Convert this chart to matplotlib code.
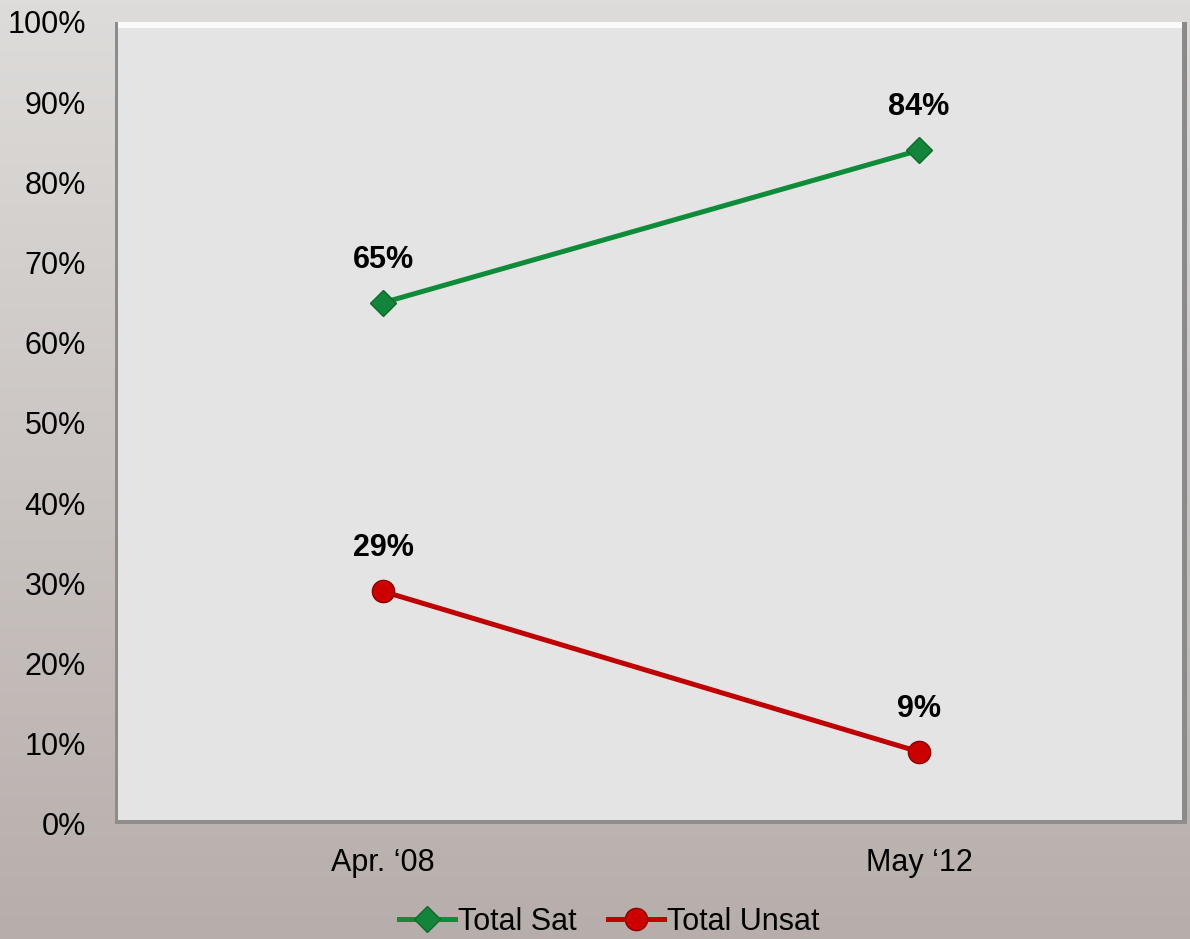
import numpy as np
import matplotlib
matplotlib.use("Agg")
import matplotlib.pyplot as plt
from matplotlib.patches import Rectangle

# Chart data
periods = ["Apr. \u201808", "May \u201812"]
total_sat = [65, 84]
total_unsat = [29, 9]
y_ticks = list(range(0, 101, 10))

plt.rcParams['font.family'] = ['Liberation Sans', 'DejaVu Sans']

fig = plt.figure(figsize=(11.9, 9.39), dpi=100)

# Background gradient (grey photo-like backdrop)
bg = fig.add_axes([0, 0, 1, 1], zorder=0)
grad = np.linspace(0, 1, 256).reshape(-1, 1)
top = np.array([222, 220, 218]) / 255
bot = np.array([183, 174, 171]) / 255
img = top + (bot - top) * grad[..., None]
bg.imshow(img, aspect='auto', extent=[0, 1, 0, 1])
bg.axis('off')

left, bottom, width, height = 0.0966, 0.1225, 0.9009, 0.8541
ax = fig.add_axes([left, bottom, width, height], zorder=2)
ax.set_facecolor('#e4e4e4')

x = np.arange(len(periods))
ax.plot(x, total_sat, color='#0e8c3a', linewidth=3.6, marker='D',
        markersize=13, markerfacecolor='#13853a', markeredgecolor='#0b6a2a',
        label='Total Sat', zorder=3)
ax.plot(x, total_unsat, color='#c00000', linewidth=3.6, marker='o',
        markersize=16, markerfacecolor='#cc0000', markeredgecolor='#8a0000',
        label='Total Unsat', zorder=3)

for xi, v in zip(x, total_sat):
    ax.annotate(f"{v}%", (xi, v), xytext=(0, 31), textcoords='offset points',
                ha='center', va='center', fontsize=22, fontweight='bold')
for xi, v in zip(x, total_unsat):
    ax.annotate(f"{v}%", (xi, v), xytext=(0, 31), textcoords='offset points',
                ha='center', va='center', fontsize=22, fontweight='bold')

ax.set_xlim(-0.5, 1.5)
ax.set_ylim(0, 100)
ax.set_yticks(y_ticks)
ax.set_yticklabels([f"{t}%" for t in y_ticks], fontsize=22)
ax.set_xticks(x)
ax.set_xticklabels(periods, fontsize=22)
ax.tick_params(axis='y', length=0, pad=21)
ax.tick_params(axis='x', length=0, pad=17)
for s in ax.spines.values():
    s.set_visible(False)

# Bevelled frame
ax.add_patch(Rectangle((0, 0.993), 1, 0.007, transform=ax.transAxes,
                       facecolor='#fafafa', edgecolor='none', clip_on=False, zorder=4))
ax.add_patch(Rectangle((0, 0), 0.003, 1, transform=ax.transAxes,
                       facecolor='#8c8c8c', edgecolor='none', clip_on=False, zorder=4))
ax.add_patch(Rectangle((0.995, 0), 0.005, 1, transform=ax.transAxes,
                       facecolor='#8a8a8a', edgecolor='none', clip_on=False, zorder=4))
ax.add_patch(Rectangle((0, 0), 1, 0.005, transform=ax.transAxes,
                       facecolor='#8e8e8e', edgecolor='none', clip_on=False, zorder=4))

leg = fig.legend(loc='center', bbox_to_anchor=(0.512, 0.018), ncol=2, frameon=False,
                 fontsize=22, handlelength=1.85, handletextpad=0.1, columnspacing=1.0)

fig.savefig("out.png", dpi=100)
